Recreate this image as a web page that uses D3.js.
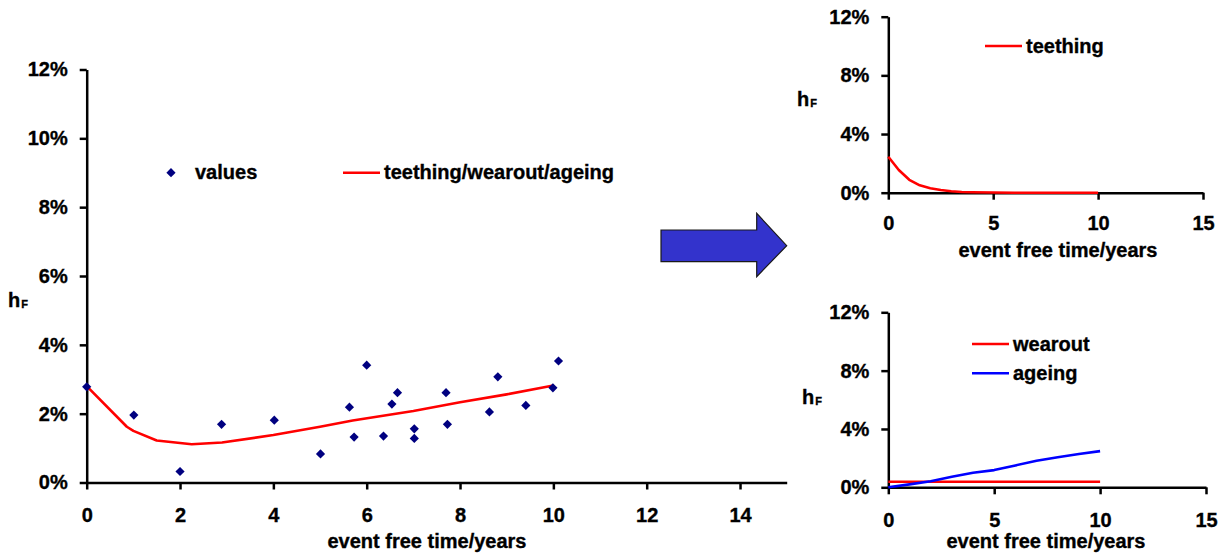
<!DOCTYPE html>
<html>
<head>
<meta charset="utf-8">
<script src="https://cdn.jsdelivr.net/npm/d3@7"></script>
<style>
  html, body { margin: 0; padding: 0; background: #fff; }
  svg text { font-family: "Liberation Sans", Arial, sans-serif; font-weight: bold; fill: #000;
             stroke: #000; stroke-width: 0.35px; }
</style>
</head>
<body>
<svg id="chart" width="1230" height="557"></svg>
<script>
// Observed hazard rates (event free time in years, h_F in %)
const obsTime = [0, 1.01, 2.0, 2.89, 4.02, 5.01, 5.63, 5.73, 6.0, 6.36, 6.54, 6.66, 7.02, 7.02,
                 7.70, 7.73, 8.63, 8.81, 9.41, 9.99, 10.11];
const obsRate = [2.78, 1.96, 0.32, 1.69, 1.81, 0.83, 2.19, 1.32, 3.41, 1.35, 2.28, 2.61, 1.56, 1.28,
                 2.61, 1.69, 2.05, 3.07, 2.24, 2.75, 3.53];

// Fitted combined model teething/wearout/ageing
const fitTime = [0, 0.86, 1.0, 1.5, 2.25, 2.9, 4, 5, 5.7, 7, 8, 9, 10];
const fitRate = [2.80, 1.62, 1.50, 1.22, 1.11, 1.16, 1.38, 1.62, 1.80, 2.08, 2.33, 2.56, 2.82];

// Teething component
const teethTime = [0, 0.5, 1, 1.5, 2, 2.5, 3, 3.5, 4, 5, 6, 7, 8, 9, 10];
const teethRate = [2.45, 1.55, 0.88, 0.50, 0.30, 0.18, 0.10, 0.05, 0.03, 0.01, 0, 0, 0, 0, 0];

// Wearout component
const wearTime = [0, 10];
const wearRate = [0.38, 0.38];

// Ageing component
const ageTime = [0, 1, 2, 3, 4, 5, 6, 7, 8, 9, 10];
const ageRate = [0, 0.2, 0.42, 0.72, 1.0, 1.18, 1.5, 1.82, 2.06, 2.28, 2.48];

// Tick labels
const mainXTicks = [0, 2, 4, 6, 8, 10, 12, 14];
const mainYTicks = [0, 2, 4, 6, 8, 10, 12];
const smallXTicks = [0, 5, 10, 15];
const smallYTicks = [0, 4, 8, 12];
const xTitle = "event free time/years";

const svg = d3.select("#chart");
const pct = d => d + "%";

function zip(xs, ys) { return xs.map((x, i) => ({ x, y: ys[i] })); }

function panel(cfg) {
  const x = d3.scaleLinear().domain([0, 15]).range(cfg.xr);
  const y = d3.scaleLinear().domain([0, 12]).range(cfg.yr);
  const g = svg.append("g");

  const xa = g.append("g").attr("transform", `translate(0,${cfg.yr[0]})`)
    .call(d3.axisBottom(x).tickValues(cfg.xt).tickFormat(d3.format("d"))
      .tickSize(7).tickSizeOuter(0).tickPadding(cfg.xpad));
  const ya = g.append("g").attr("transform", `translate(${cfg.xr[0]},0)`)
    .call(d3.axisLeft(y).tickValues(cfg.yt).tickFormat(pct)
      .tickSize(7).tickSizeOuter(0).tickPadding(12));
  [xa, ya].forEach(a => {
    a.select(".domain").attr("stroke", "#000").attr("stroke-width", 2.5);
    a.selectAll(".tick line").attr("stroke", "#000").attr("stroke-width", 2.5);
    a.selectAll("text").attr("font-size", 20).attr("font-family", null).style("fill", "#000");
  });

  // axis titles
  g.append("text").attr("x", cfg.titleX).attr("y", cfg.titleY)
    .attr("text-anchor", "middle").attr("font-size", 20).text(xTitle);
  const h = g.append("text").attr("x", cfg.hX).attr("y", cfg.hY).attr("font-size", 20);
  h.append("tspan").text("h");
  h.append("tspan").attr("font-size", 11).attr("dx", 1).attr("dy", 1).text("F");

  return { g, x, y };
}

function drawLine(p, data, color) {
  p.g.append("path").datum(data)
    .attr("fill", "none").attr("stroke", color).attr("stroke-width", 2.6)
    .attr("stroke-linejoin", "round")
    .attr("d", d3.line().x(d => p.x(d.x)).y(d => p.y(d.y)));
}

function legendLine(x, y, color, label) {
  svg.append("line").attr("x1", x).attr("x2", x + 37).attr("y1", y).attr("y2", y)
    .attr("stroke", color).attr("stroke-width", 2.6);
  svg.append("text").attr("x", x + 41).attr("y", y + 6.5).attr("font-size", 20).text(label);
}

// Main panel: observations plus fitted model
const mainPanel = panel({ xr: [86.7, 786.7], yr: [482.5, 69.5], xt: mainXTicks, yt: mainYTicks,
  xpad: 18, titleX: 427, titleY: 548, hX: 8, hY: 307 });
drawLine(mainPanel, zip(fitTime, fitRate), "#ff0000");
mainPanel.g.append("g").selectAll("path").data(zip(obsTime, obsRate)).join("path")
  .attr("transform", d => `translate(${mainPanel.x(d.x)},${mainPanel.y(d.y)})`)
  .attr("d", "M0,-4.6L4.6,0L0,4.6L-4.6,0Z").attr("fill", "#000080");

svg.append("path").attr("transform", "translate(171,172.7)")
  .attr("d", "M0,-4.6L4.6,0L0,4.6L-4.6,0Z").attr("fill", "#000080");
svg.append("text").attr("x", 195).attr("y", 179).attr("font-size", 20).text("values");
legendLine(343, 172.7, "#ff0000", "teething/wearout/ageing");

// Top right: teething
const teethPanel = panel({ xr: [888.3, 1203], yr: [192.7, 16.7], xt: smallXTicks, yt: smallYTicks,
  xpad: 16, titleX: 1058, titleY: 257, hX: 797, hY: 106 });
drawLine(teethPanel, zip(teethTime, teethRate), "#ff0000");
legendLine(985, 46, "#ff0000", "teething");

// Bottom right: wearout and ageing
const wearPanel = panel({ xr: [888.3, 1206], yr: [487.3, 312.3], xt: smallXTicks, yt: smallYTicks,
  xpad: 19, titleX: 1046, titleY: 548, hX: 802, hY: 404 });
drawLine(wearPanel, zip(wearTime, wearRate), "#ff0000");
drawLine(wearPanel, zip(ageTime, ageRate), "#0000ff");
legendLine(972, 344, "#ff0000", "wearout");
legendLine(972, 373.3, "#0000ff", "ageing");

// Block arrow linking the combined fit to its components
svg.append("path")
  .attr("d", "M661,230L756.7,230L756.7,213.3L786.7,245.7L756.7,276.7L756.7,261.7L661,261.7Z")
  .attr("fill", "#3333cc").attr("stroke", "#1a1a1a").attr("stroke-width", 1.2)
  .attr("stroke-linejoin", "miter");
</script>
</body>
</html>
